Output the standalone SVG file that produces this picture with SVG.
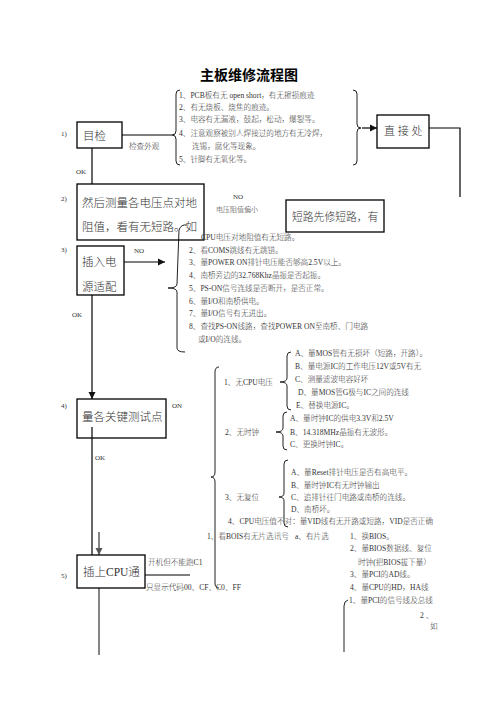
<svg xmlns="http://www.w3.org/2000/svg" width="496" height="702" viewBox="0 0 496 702">
<defs>
<marker id="ah" markerWidth="8" markerHeight="8" refX="7" refY="4" orient="auto" markerUnits="userSpaceOnUse"><path d="M0,0.5 L7,4 L0,7.5 z" fill="#111"/></marker>
<marker id="ahg" markerWidth="8" markerHeight="8" refX="7" refY="4" orient="auto" markerUnits="userSpaceOnUse"><path d="M0,0.5 L7,4 L0,7.5 z" fill="#555"/></marker>
<style>
text{font-family:"Liberation Serif","Noto Sans CJK SC",serif;fill:#222}
.t{font-size:14px;font-weight:bold;fill:#000}
.b{font-size:11.5px;fill:#333;font-weight:300}
.s{font-size:7.6px;fill:#333;font-weight:300}
.n{font-size:7px;fill:#333;font-weight:300}
.box{fill:none;stroke:#000;stroke-width:1.3}
.ln{fill:none;stroke:#000;stroke-width:1.2}
.br{fill:none;stroke:#222;stroke-width:1}
.g{fill:none;stroke:#666;stroke-width:1.6}
</style>
</defs>
<rect width="496" height="702" fill="#fff"/>
<text class="t" x="200" y="80">主板维修流程图</text>

<g id="connectors">
<line class="ln" x1="122" y1="135" x2="172" y2="135"/>
<line class="ln" x1="92" y1="148" x2="92" y2="184"/>
<line class="ln" x1="362" y1="128" x2="377" y2="128" marker-end="url(#ah)"/>
<polyline class="ln" points="429,128 460,128 460,197"/>
<line class="ln" x1="124" y1="262" x2="165" y2="262" marker-end="url(#ah)"/>
<line class="ln" x1="92" y1="295" x2="92" y2="399" marker-end="url(#ah)"/>
<line class="ln" x1="92" y1="427" x2="92" y2="555"/>
<line class="g" x1="99" y1="532" x2="99" y2="555" marker-end="url(#ahg)"/>
<line class="g" x1="99" y1="588" x2="99" y2="655"/>
<line class="ln" x1="145" y1="575" x2="190" y2="575"/>
</g>

<g id="braces">
<path class="br" d="M180,90 Q176,90 176,94 L176,131 Q176,135 172,135 Q176,135 176,139 L176,161 Q176,165 180,165"/>
<path class="br" d="M353,90 Q357,90 357,94 L357,124 Q357,128 361,128 Q357,128 357,132 L357,161 Q357,165 353,165"/>
<path class="br" d="M187,225 Q181,224 179,230 L177,284 Q177,288 168,288 Q177,288 177,292 L177,348 Q177,352 185,352"/>
<path class="br" d="M219,367 Q215,367 215,372 L215,472 Q215,477 211,477 Q215,477 215,482 L215,583 Q215,588 219,588"/>
<path class="br" d="M291,352 Q287,352 287,356 L287,378 Q287,382 280,382 Q287,382 287,386 L287,406 Q287,410 291,410"/>
<path class="br" d="M287,412 Q283,412 283,416 L283,428 Q283,432 276,432 Q283,432 283,436 L283,446 Q283,450 287,450"/>
<path class="br" d="M288,460 Q284,460 284,464 L284,493 Q284,497 279,497 Q284,497 284,501 L284,523 Q284,527 288,527"/>
<path class="br" d="M348,600 Q344,601 344,606 L344,652"/>
</g>

<g id="n1">
<text class="n" x="61" y="136">1)</text>
<rect class="box" x="77" y="122" width="45" height="26"/>
<text class="b" x="83" y="140">目检</text>
<text class="s" x="129" y="149">检查外观</text>
<text class="n" x="76" y="174">OK</text>
</g>
<g id="list1">
<text class="s" x="179" y="98">1、PCB板有无 open short，有无擦损痕迹</text>
<text class="s" x="179" y="110">2、有无烧板、烧焦的痕迹。</text>
<text class="s" x="179" y="122">3、电容有无漏液，鼓起，松动，爆裂等。</text>
<text class="s" x="179" y="136">4、注意观察被别人焊接过的地方有无冷焊，</text>
<text class="s" x="192" y="149">连锡，腐化等现象。</text>
<text class="s" x="179" y="162">5、针脚有无氧化等。</text>
</g>
<g id="n-direct">
<rect class="box" x="377" y="115" width="52" height="33"/>
<text class="b" x="384" y="135" style="font-size:11px">直 接 处</text>
</g>

<g id="n2">
<text class="n" x="61" y="201">2)</text>
<rect class="box" x="77" y="184" width="127" height="56"/>
<text class="b" x="82" y="207">然后测量各电压点对地</text>
<text class="b" x="82" y="231">阻值，看有无短路。如</text>
<text class="n" x="233" y="199">NO</text>
<text class="n" x="216" y="212">电压阻值偏小</text>
</g>
<g id="n-short">
<rect class="box" x="286" y="200" width="98" height="32"/>
<text class="b" x="292" y="221" style="font-size:10.8px">短路先修短路，有</text>
</g>

<g id="n3">
<text class="n" x="61" y="252">3)</text>
<rect class="box" x="77" y="246" width="47" height="49"/>
<text class="b" x="82" y="266">插入电</text>
<text class="b" x="82" y="291">源适配</text>
<text class="n" x="134" y="253">NO</text>
<text class="n" x="72" y="317">OK</text>
</g>
<g id="list3">
<text class="s" x="201" y="240">CPU电压对地阻值有无短路。</text>
<text class="s" x="189" y="253">2、看COMS跳线有无跳错。</text>
<text class="s" x="189" y="265">3、量POWER ON排针电压能否够高2.5V以上。</text>
<text class="s" x="189" y="278">4、南桥旁边的32.768Khz晶振是否起振。</text>
<text class="s" x="189" y="291">5、PS-ON信号连线是否断开，是否正常。</text>
<text class="s" x="189" y="304">6、量I/O和南桥供电。</text>
<text class="s" x="189" y="316">7、量I/O信号有无进出。</text>
<text class="s" x="189" y="329">8、查找PS-ON线路，查找POWER ON至南桥、门电路</text>
<text class="s" x="198" y="342">或I/O的连线。</text>
</g>

<g id="n4">
<text class="n" x="61" y="408">4)</text>
<rect class="box" x="77" y="399" width="89" height="39"/>
<text class="b" x="82" y="421">量各关键测试点</text>
<text class="n" x="172" y="408">ON</text>
<text class="n" x="95" y="460">OK</text>
</g>
<g id="list4">
<text class="s" x="224" y="385">1、无CPU电压</text>
<text class="s" x="295" y="356">A、量MOS管有无损坏（短路，开路）。</text>
<text class="s" x="295" y="369">B、量电源IC的工作电压12V或5V有无</text>
<text class="s" x="295" y="382">C、测量滤波电容好坏</text>
<text class="s" x="298" y="395">D、量MOS管G极与IC之间的连线</text>
<text class="s" x="296" y="408">E、替换电源IC。</text>
<text class="s" x="225" y="435">2、无时钟</text>
<text class="s" x="290" y="421">A、量时钟IC的供电3.3V和2.5V</text>
<text class="s" x="290" y="435">B、14.318MHz晶振有无波形。</text>
<text class="s" x="290" y="447">C、更换时钟IC。</text>
<text class="s" x="225" y="500">3、无复位</text>
<text class="s" x="291" y="475">A、量Reset排针电压是否有高电平。</text>
<text class="s" x="291" y="488">B、量时钟IC有无时钟输出</text>
<text class="s" x="291" y="500">C、追排针往门电路或南桥的连线。</text>
<text class="s" x="291" y="512">D、南桥坏。</text>
<text class="s" x="228" y="524">4、CPU电压值不对：量VID线有无开路或短路，VID是否正确</text>
</g>

<g id="n5">
<text class="n" x="61" y="578">5)</text>
<rect class="box" x="77" y="555" width="68" height="33"/>
<text class="b" x="83" y="576">插上CPU通</text>
<text class="s" x="148" y="565">开机但不能跑C1</text>
<text class="s" x="146" y="590">只显示代码00、CF、C0、FF</text>
</g>
<g id="list5">
<text class="s" x="207" y="539">1、看BOIS有无片选讯号</text>
<text class="s" x="295" y="539">a、有片选</text>
<text class="s" x="350" y="539">1、换BIOS。</text>
<text class="s" x="350" y="551">2、量BIOS数据线、复位</text>
<text class="s" x="358" y="565">时钟(把BIOS拔下量）</text>
<text class="s" x="350" y="577">3、量PCI的AD线。</text>
<text class="s" x="350" y="590">4、量CPU的HD，HA线</text>
<text class="s" x="349" y="603">1、量PCI的信号线及总线</text>
<text class="s" x="420" y="618">2 、</text>
<text class="s" x="430" y="629">如</text>
</g>
</svg>
